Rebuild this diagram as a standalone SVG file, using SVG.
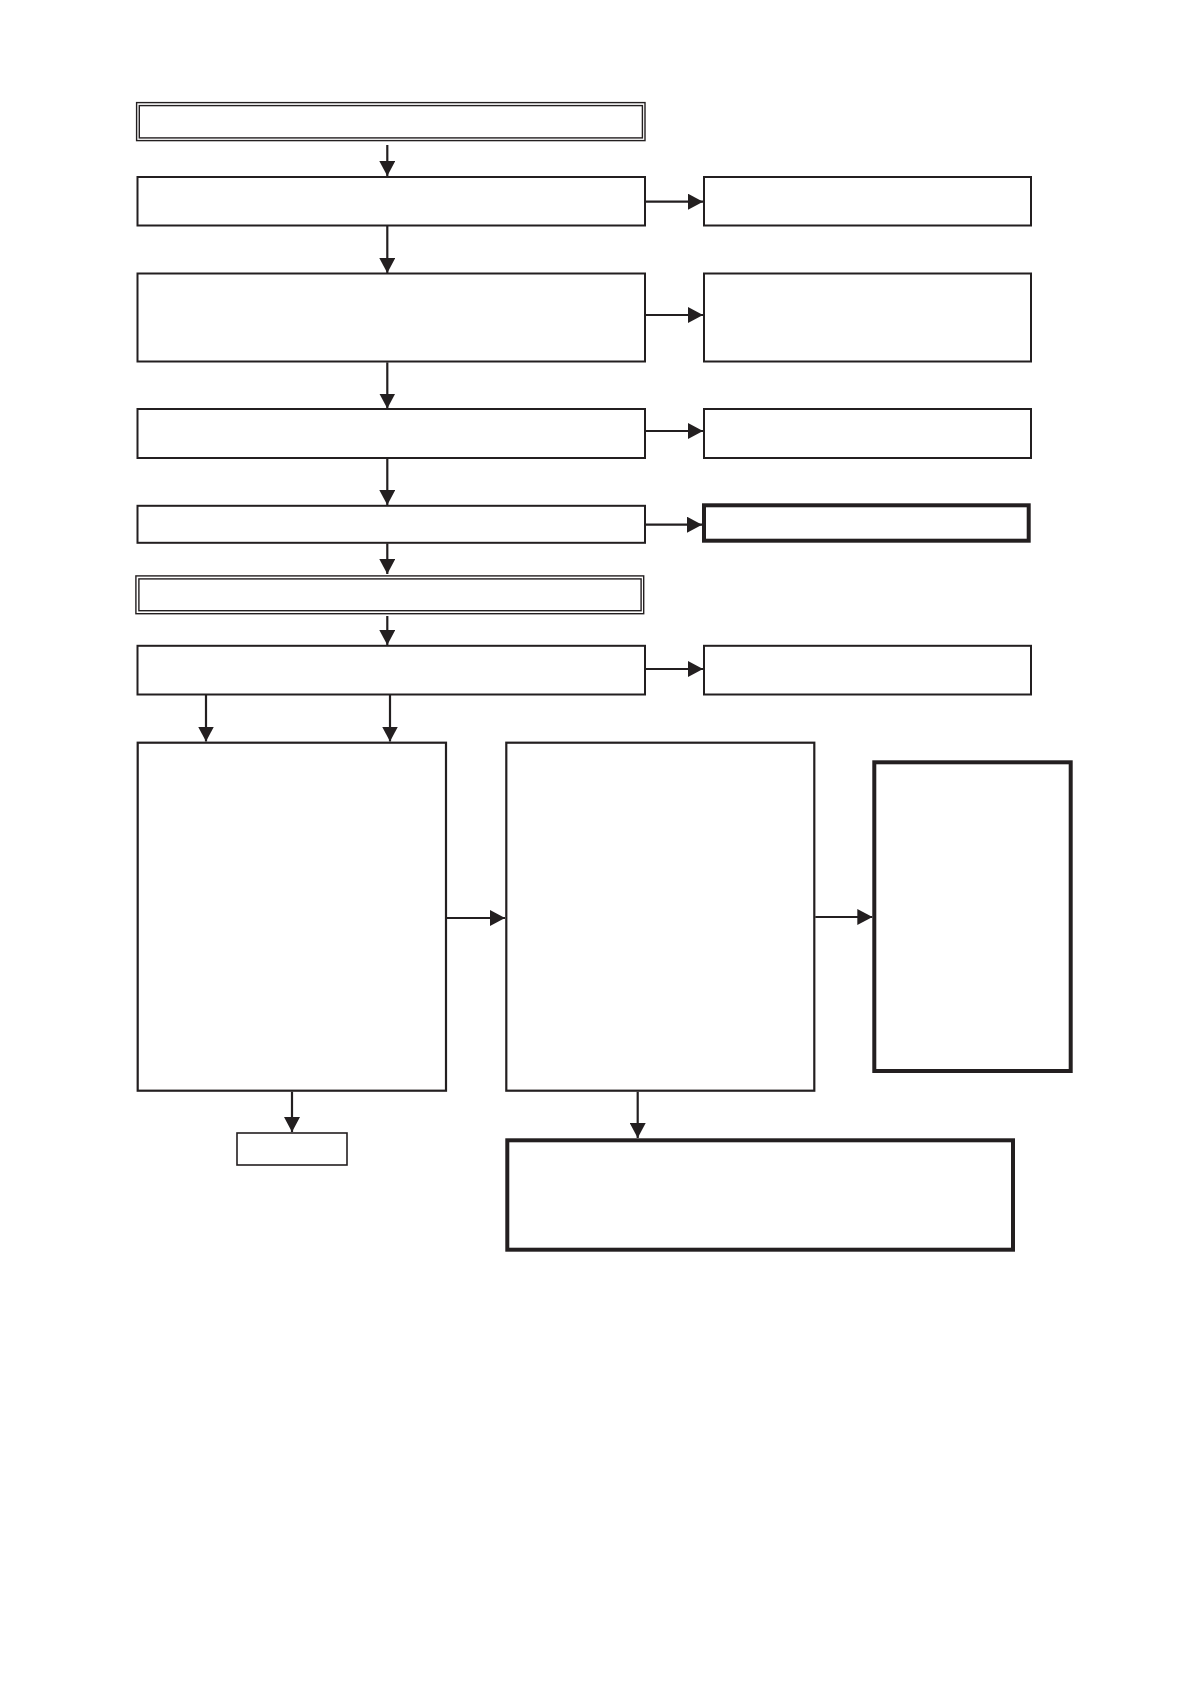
<svg xmlns="http://www.w3.org/2000/svg" width="1191" height="1684" viewBox="0 0 1191 1684">
<style>
.box{fill:#fff;stroke:#231f20;stroke-width:2}
.thin{fill:none;stroke:#231f20;stroke-width:1.4}
.big{fill:#fff;stroke:#231f20;stroke-width:2.2}
.thick{fill:#fff;stroke:#231f20;stroke-width:4}
.con{fill:none;stroke:#231f20;stroke-width:2.2;marker-end:url(#ah)}
</style>
<defs>
<marker id="ah" markerUnits="userSpaceOnUse" markerWidth="15" markerHeight="16" viewBox="0 0 15 16" refX="15" refY="8" orient="auto">
<path d="M0,0 L15,8 L0,16 z" fill="#231f20"/>
</marker>
</defs>
<rect width="1191" height="1684" fill="#fff"/>
<g id="connectors">
<line class="con" x1="387.3" y1="145" x2="387.3" y2="176"/>
<line class="con" x1="645.7" y1="201.7" x2="703" y2="201.7"/>
<line class="con" x1="387.3" y1="226" x2="387.3" y2="273"/>
<line class="con" x1="645.7" y1="315" x2="703" y2="315"/>
<line class="con" x1="387.3" y1="362.3" x2="387.3" y2="408.5"/>
<line class="con" x1="645.7" y1="431" x2="703" y2="431"/>
<line class="con" x1="387.3" y1="458.3" x2="387.3" y2="505"/>
<line class="con" x1="645.7" y1="524.7" x2="702" y2="524.7"/>
<line class="con" x1="387.3" y1="543.3" x2="387.3" y2="574"/>
<line class="con" x1="387.3" y1="616" x2="387.3" y2="645"/>
<line class="con" x1="645.7" y1="669" x2="703" y2="669"/>
<line class="con" x1="206" y1="695" x2="206" y2="741.5"/>
<line class="con" x1="390" y1="695" x2="390" y2="741.5"/>
<line class="con" x1="447" y1="918" x2="505" y2="918"/>
<line class="con" x1="815.3" y1="917" x2="872.3" y2="917"/>
<line class="con" x1="292" y1="1091.7" x2="292" y2="1132"/>
<line class="con" x1="637.7" y1="1091.7" x2="637.7" y2="1138"/>
</g>
<g id="start1">
<rect class="thin" x="136.6" y="102.6" width="508.4" height="38"/>
<rect class="thin" x="139.3" y="105.6" width="503.1" height="32.3"/>
</g>
<g id="step1"><rect class="box" x="137.5" y="177" width="507.5" height="48.5"/></g>
<g id="side1"><rect class="box" x="704" y="177" width="327" height="48.5"/></g>
<g id="step2"><rect class="box" x="137.5" y="273.5" width="507.5" height="88"/></g>
<g id="side2"><rect class="box" x="704" y="273.5" width="327" height="88"/></g>
<g id="step3"><rect class="box" x="137.5" y="409" width="507.5" height="49"/></g>
<g id="side3"><rect class="box" x="704" y="409" width="327" height="49"/></g>
<g id="step4"><rect class="box" x="137.5" y="505.8" width="507.5" height="37"/></g>
<g id="side4"><rect class="thick" x="704" y="505.3" width="324.7" height="35.4"/></g>
<g id="start2">
<rect class="thin" x="135.9" y="575.9" width="507.8" height="37.8"/>
<rect class="thin" x="138.9" y="578.9" width="502.2" height="31.8"/>
</g>
<g id="step5"><rect class="box" x="137.5" y="645.8" width="507.5" height="48.7"/></g>
<g id="side5"><rect class="box" x="704" y="645.8" width="327" height="48.7"/></g>
<g id="blockL"><rect class="big" x="137.7" y="742.7" width="308.3" height="348"/></g>
<g id="blockM"><rect class="big" x="506.3" y="742.7" width="308" height="348"/></g>
<g id="blockR"><rect class="thick" x="874.3" y="762.3" width="196.4" height="308.7"/></g>
<g id="endL"><rect class="box" x="237" y="1133" width="110" height="32" style="stroke-width:1.6"/></g>
<g id="endM"><rect class="thick" x="507.3" y="1140.3" width="505.7" height="109.4"/></g>
</svg>
